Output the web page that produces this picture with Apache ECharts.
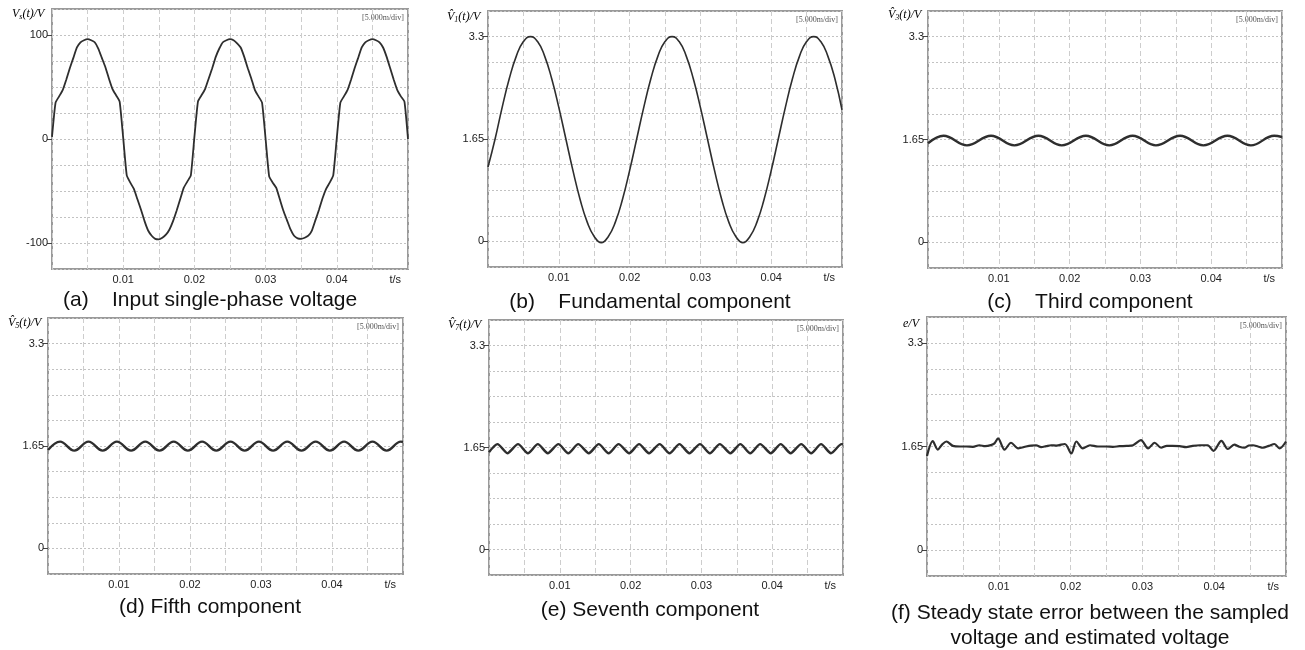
<!DOCTYPE html>
<html>
<head>
<meta charset="utf-8">
<title>Voltage components</title>
<script src="https://cdn.jsdelivr.net/npm/echarts@6/dist/echarts.min.js"></script>
<style>
  html, body { margin: 0; padding: 0; background: #fff; }
  #chart { width: 1305px; height: 650px; }
</style>
</head>
<body>
<div id="chart"></div>
<script>
// waveforms, t in s

// (a) input voltage, one sample every 0.5 ms
const inputStep = 0.0005;
const inputVoltage = [
  2, 35, 41, 47, 57, 68, 78, 88, 93, 95,
  96, 95, 93, 87, 78, 69, 58, 48, 42, 36,
  1, -35, -42, -48, -58, -68, -79, -88, -93, -96,
  -96.5, -95, -92, -87, -79, -69, -58, -47, -41, -35,
  2, 36, 42, 48, 58, 68, 79, 87, 93, 95,
  96, 95, 92, 88, 79, 68, 58, 47, 41, 35,
  0, -36, -42, -47, -58, -69, -78, -87, -93, -95.5,
  -96, -95, -93, -88, -78, -68, -57, -48, -42, -35,
  1, 35, 41, 47, 57, 68, 78, 88, 93, 95,
  96, 95, 93, 88, 79, 68, 57, 47, 41, 36,
  0
];

// (b) fundamental, one sample every 1 ms
const fundamentalStep = 0.001;
const fundamental = [
  1.2, 1.65, 2.16, 2.62, 2.985, 3.22, 3.3, 3.22, 2.985, 2.62,
  2.16, 1.65, 1.14, 0.68, 0.315, 0.08, -0.02, 0.08, 0.315, 0.68,
  1.14, 1.65, 2.16, 2.62, 2.985, 3.22, 3.3, 3.22, 2.985, 2.62,
  2.16, 1.65, 1.14, 0.68, 0.315, 0.08, -0.02, 0.08, 0.315, 0.68,
  1.14, 1.65, 2.16, 2.62, 2.985, 3.22, 3.3, 3.22, 2.985, 2.62,
  2.12
];

// (c) third component, peaks and troughs
const thirdTime = [0, 0.0022, 0.0055, 0.0089, 0.0122, 0.0156, 0.0189, 0.0223, 0.0256,
  0.0289, 0.0322, 0.0356, 0.0389, 0.0423, 0.0456, 0.0489, 0.05];
const thirdValue = [1.59, 1.71, 1.555, 1.71, 1.555, 1.71, 1.555, 1.71, 1.555,
  1.71, 1.555, 1.71, 1.555, 1.71, 1.555, 1.71, 1.69];

// (d) fifth component
const fifthTime = [0, 0.0017, 0.0037, 0.0057, 0.0077, 0.0097, 0.0117, 0.0137, 0.0157,
  0.0177, 0.0197, 0.0217, 0.0237, 0.0257, 0.0277, 0.0297, 0.0317, 0.0337, 0.0357,
  0.0377, 0.0397, 0.0417, 0.0437, 0.0457, 0.0477, 0.0497, 0.05];
const fifthValue = [1.585, 1.72, 1.575, 1.72, 1.575, 1.72, 1.575, 1.72, 1.575,
  1.72, 1.575, 1.72, 1.575, 1.72, 1.575, 1.72, 1.575, 1.72, 1.575,
  1.72, 1.575, 1.72, 1.575, 1.72, 1.575, 1.72, 1.715];

// (e) seventh component
const seventhTime = [0, 0.0012, 0.0026, 0.0041, 0.0055, 0.0069, 0.0083, 0.0098, 0.0112,
  0.0126, 0.0141, 0.0155, 0.0169, 0.0183, 0.0198, 0.0212, 0.0226, 0.0241, 0.0255,
  0.0269, 0.0283, 0.0298, 0.0312, 0.0326, 0.0341, 0.0355, 0.0369, 0.0383, 0.0398,
  0.0412, 0.0426, 0.0441, 0.0455, 0.0469, 0.0483, 0.0498, 0.05];
const seventhValue = [1.575, 1.705, 1.558, 1.705, 1.558, 1.705, 1.558, 1.705, 1.558,
  1.705, 1.558, 1.705, 1.558, 1.705, 1.558, 1.705, 1.558, 1.705, 1.558,
  1.705, 1.558, 1.705, 1.558, 1.705, 1.558, 1.705, 1.558, 1.705, 1.558,
  1.705, 1.558, 1.705, 1.558, 1.705, 1.558, 1.705, 1.70];

// (f) steady state error
const errorTime = [0, 0.0008, 0.0015, 0.0021, 0.0027, 0.0036, 0.0046, 0.0055, 0.0064, 0.0073,
  0.0081, 0.0089, 0.0094, 0.0099, 0.0108, 0.0117, 0.0127, 0.0138, 0.0145, 0.0152,
  0.0159, 0.0166, 0.0173, 0.018, 0.0192, 0.0201, 0.0208, 0.0217, 0.0227, 0.0238,
  0.025, 0.0259, 0.0268, 0.0278, 0.0287, 0.0298, 0.0308, 0.0317, 0.0326, 0.0334,
  0.0342, 0.0352, 0.0361, 0.037, 0.038, 0.0391, 0.0399, 0.041, 0.0419, 0.0428,
  0.0435, 0.0442, 0.0448, 0.0454, 0.0461, 0.0468, 0.0476, 0.0484, 0.0491, 0.05];
const errorValue = [1.50, 1.735, 1.60, 1.68, 1.73, 1.66, 1.65, 1.65, 1.645, 1.67,
  1.655, 1.672, 1.70, 1.78, 1.60, 1.71, 1.62, 1.65, 1.665, 1.67,
  1.64, 1.655, 1.67, 1.665, 1.69, 1.54, 1.73, 1.62, 1.67, 1.65,
  1.65, 1.645, 1.655, 1.66, 1.67, 1.75, 1.62, 1.71, 1.63, 1.66,
  1.66, 1.655, 1.64, 1.66, 1.67, 1.67, 1.58, 1.74, 1.61, 1.68,
  1.645, 1.63, 1.665, 1.67, 1.65, 1.63, 1.66, 1.69, 1.62, 1.73];

// tick labels
const inputTicks = [-100, 0, 100];
const componentTicks = [0, 1.65, 3.3];
const timeUnit = 't/s';
const scopeScale = '[5.000m/div]';

function stepped(step, values) {
  return values.map((v, i) => [+(i * step).toFixed(4), v]);
}
function paired(times, values) {
  return values.map((v, i) => [times[i], v]);
}

const sans = '"Liberation Sans", Arial, sans-serif';
const serif = '"Liberation Serif", "DejaVu Serif", serif';

const comp = { min: -0.4125, max: 3.7125, step: 0.4125, ticks: componentTicks };
const panels = [
  { box: { left: 52, top: 9, width: 356, height: 260 }, min: -125, max: 125, step: 25, ticks: inputTicks,
    data: stepped(inputStep, inputVoltage), lw: 1.8, smooth: 0.15,
    yName: '{v|V}{s|s}{v|(t)/V}', nameAt: [12, 14],
    caption: '(a)    Input single-phase voltage', capAt: [63, 300], capAlign: 'left' },
  { box: { left: 488, top: 11, width: 354, height: 256 }, ...comp,
    data: stepped(fundamentalStep, fundamental), lw: 1.6, smooth: 0.5,
    yName: '{v|V\u0302}{s|1}{v|(t)/V}', nameAt: [447, 17],
    caption: '(b)    Fundamental component', capAt: [650, 302], capAlign: 'center' },
  { box: { left: 928, top: 11, width: 354, height: 257 }, ...comp,
    data: paired(thirdTime, thirdValue), lw: 2.4, smooth: 0.4,
    yName: '{v|V\u0302}{s|3}{v|(t)/V}', nameAt: [888, 15],
    caption: '(c)    Third component', capAt: [1090, 302], capAlign: 'center' },
  { box: { left: 48, top: 318, width: 355, height: 256 }, ...comp,
    data: paired(fifthTime, fifthValue), lw: 2.4, smooth: 0.4,
    yName: '{v|V\u0302}{s|5}{v|(t)/V}', nameAt: [8, 323],
    caption: '(d) Fifth component', capAt: [210, 607], capAlign: 'center' },
  { box: { left: 489, top: 320, width: 354, height: 255 }, ...comp,
    data: paired(seventhTime, seventhValue), lw: 2.4, smooth: 0.25,
    yName: '{v|V\u0302}{s|7}{v|(t)/V}', nameAt: [448, 325],
    caption: '(e) Seventh component', capAt: [650, 610], capAlign: 'center' },
  { box: { left: 927, top: 317, width: 359, height: 259 }, ...comp,
    data: paired(errorTime, errorValue), lw: 2.2, smooth: 0.3,
    yName: '{v|e/V}', nameAt: [903, 324],
    caption: '(f) Steady state error between the sampled\nvoltage and estimated voltage', capAt: [1090, 626], capAlign: 'center' }
];

const grid = [], xAxis = [], yAxis = [], series = [], graphic = [];

panels.forEach(function (p, i) {
  grid.push(Object.assign({ show: true, borderColor: '#9a9a9a', borderWidth: 2 }, p.box));

  xAxis.push({
    gridIndex: i, type: 'value', min: 0, max: 0.05, interval: 0.005,
    axisLine: { show: false }, axisTick: { show: false },
    splitLine: { lineStyle: { color: '#cdcdcd', width: 1, type: [5, 3] } },
    axisLabel: {
      fontFamily: sans, fontSize: 11, color: '#222', margin: 5,
      showMinLabel: false, showMaxLabel: true, alignMaxLabel: 'right',
      formatter: function (v) {
        const ms = Math.round(v * 1000);
        if (ms === 50) return '{u|' + timeUnit + '}';
        if (ms > 0 && ms < 50 && ms % 10 === 0) return (ms / 1000).toFixed(2);
        return '';
      },
      rich: { u: { fontFamily: sans, fontSize: 11, color: '#222', padding: [0, 7, 0, 0] } }
    }
  });

  // grid lines
  yAxis.push({
    gridIndex: i, type: 'value', min: p.min, max: p.max, interval: p.step,
    axisLine: { show: false }, axisTick: { show: false }, axisLabel: { show: false },
    splitLine: { lineStyle: { color: '#c2c2c2', width: 1, type: [2, 2] } }
  });
  // labelled ticks
  yAxis.push({
    gridIndex: i, type: 'value', min: p.min, max: p.max, position: 'left',
    axisLine: { show: false }, splitLine: { show: false },
    axisTick: { show: true, length: 5, customValues: p.ticks, lineStyle: { color: '#444' } },
    axisLabel: { customValues: p.ticks, margin: 4, fontFamily: sans, fontSize: 11, color: '#222' }
  });

  series.push({
    type: 'line', xAxisIndex: i, yAxisIndex: 2 * i, data: p.data,
    showSymbol: false, smooth: p.smooth, animation: false,
    lineStyle: { color: '#2e2e2e', width: p.lw }
  });

  graphic.push({
    type: 'text', x: p.nameAt[0], y: p.nameAt[1],
    style: {
      text: p.yName, verticalAlign: 'middle',
      rich: {
        v: { fontFamily: serif, fontStyle: 'italic', fontSize: 12, color: '#222', lineHeight: 14 },
        s: { fontFamily: serif, fontStyle: 'italic', fontSize: 8, color: '#222', verticalAlign: 'bottom', lineHeight: 14 }
      }
    }
  });
  graphic.push({
    type: 'text', x: p.box.left + p.box.width - 4, y: p.box.top + 9,
    style: { text: scopeScale, font: '8px ' + serif, fill: '#555', align: 'right', verticalAlign: 'middle' }
  });
  graphic.push({
    type: 'text', x: p.capAt[0], y: p.capAt[1],
    style: {
      text: p.caption, font: '21px ' + sans, fill: '#111', lineHeight: 25,
      align: p.capAlign, verticalAlign: 'middle'
    }
  });
});

const chart = echarts.init(document.getElementById('chart'));
chart.setOption({
  backgroundColor: '#fff',
  animation: false,
  grid: grid,
  xAxis: xAxis,
  yAxis: yAxis,
  series: series,
  graphic: graphic
});
</script>
</body>
</html>
